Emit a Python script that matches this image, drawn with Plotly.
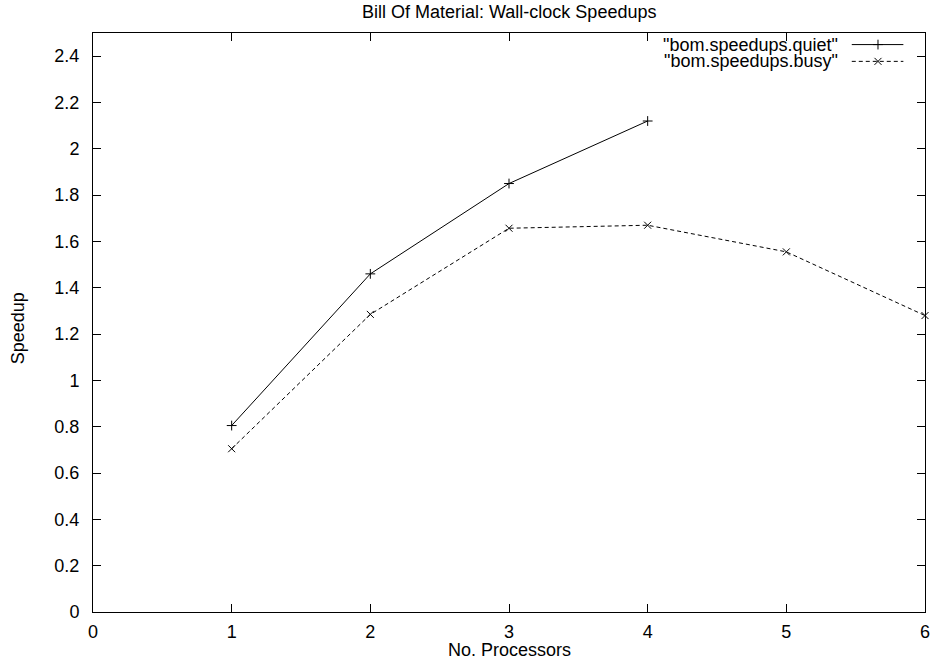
import plotly.graph_objects as go

# Data
processors_quiet = [1, 2, 3, 4]
speedup_quiet = [0.805, 1.46, 1.85, 2.12]
processors_busy = [1, 2, 3, 4, 5, 6]
speedup_busy = [0.705, 1.285, 1.657, 1.67, 1.555, 1.28]
x_ticks = [0, 1, 2, 3, 4, 5, 6]
y_ticks = [0, 0.2, 0.4, 0.6, 0.8, 1, 1.2, 1.4, 1.6, 1.8, 2, 2.2, 2.4]
y_tick_labels = ["0", "0.2", "0.4", "0.6", "0.8", "1", "1.2", "1.4", "1.6", "1.8", "2", "2.2", "2.4"]
series_names = ['"bom.speedups.quiet"', '"bom.speedups.busy"']

FONT = "Liberation Sans, Arial, sans-serif"
FS = 18

fig = go.Figure()
fig.add_trace(go.Scatter(
    x=processors_quiet, y=speedup_quiet, mode="lines+markers",
    line=dict(color="black", width=1),
    marker=dict(symbol="cross-thin", size=7, line=dict(color="black", width=1)),
    cliponaxis=False, showlegend=False))
fig.add_trace(go.Scatter(
    x=processors_busy, y=speedup_busy, mode="lines+markers",
    line=dict(color="black", width=1, dash="4px,3px"),
    marker=dict(symbol="x-thin", size=7, line=dict(color="black", width=1)),
    cliponaxis=False, showlegend=False))

# legend samples (gnuplot style: text left, sample right)
leg_y = [0.980, 0.951]
styles = [dict(dash="solid", sym="cross-thin"), dict(dash="4px,3px", sym="x-thin")]
for name, ly, st in zip(series_names, leg_y, styles):
    fig.add_trace(go.Scatter(
        x=[0.912, 0.974], y=[ly, ly], xaxis="x2", yaxis="y2", mode="lines",
        line=dict(color="black", width=1, dash=st["dash"]), showlegend=False, hoverinfo="skip"))
    fig.add_trace(go.Scatter(
        x=[0.9435], y=[ly], xaxis="x2", yaxis="y2", mode="markers",
        marker=dict(symbol=st["sym"], size=7, line=dict(color="black", width=1)),
        showlegend=False, hoverinfo="skip"))
    fig.add_annotation(x=0.8967, y=ly, xref="paper", yref="paper", text=name,
                       showarrow=False, xanchor="right", yanchor="middle", borderpad=0,
                       font=dict(family=FONT, size=FS, color="black"))

# axis titles and chart title
fig.add_annotation(x=0.5, y=-0.0656, xref="paper", yref="paper", text="No. Processors",
                   showarrow=False, xanchor="center", yanchor="middle",
                   font=dict(family=FONT, size=FS, color="black"))
fig.add_annotation(x=-0.0901, y=0.49, xref="paper", yref="paper", text="Speedup",
                   showarrow=False, xanchor="center", yanchor="middle", textangle=-90,
                   font=dict(family=FONT, size=FS, color="black"))
fig.add_annotation(x=0.5, y=1.0363, xref="paper", yref="paper",
                   text="Bill Of Material: Wall-clock Speedups",
                   showarrow=False, xanchor="center", yanchor="middle",
                   font=dict(family=FONT, size=FS, color="black"))

axis_common = dict(showgrid=False, zeroline=False, showline=True, linecolor="black",
                   linewidth=1, mirror="ticks", ticks="inside", ticklen=8,
                   tickcolor="black", tickwidth=1, automargin=False,
                   tickfont=dict(family=FONT, size=FS, color="black"))

fig.update_layout(
    width=935, height=660,
    margin=dict(l=93, r=10, t=33, b=48),
    paper_bgcolor="white", plot_bgcolor="white",
    xaxis=dict(range=[0, 6], tickvals=x_ticks, ticktext=[str(v) for v in x_ticks],
               ticklabelstandoff=3, **axis_common),
    yaxis=dict(range=[0, 2.5], tickvals=y_ticks, ticktext=y_tick_labels,
               ticklabelstandoff=9, **axis_common),
    xaxis2=dict(range=[0, 1], overlaying="x", visible=False, fixedrange=True),
    yaxis2=dict(range=[0, 1], overlaying="y", visible=False, fixedrange=True),
)

fig.write_html("out.html")
